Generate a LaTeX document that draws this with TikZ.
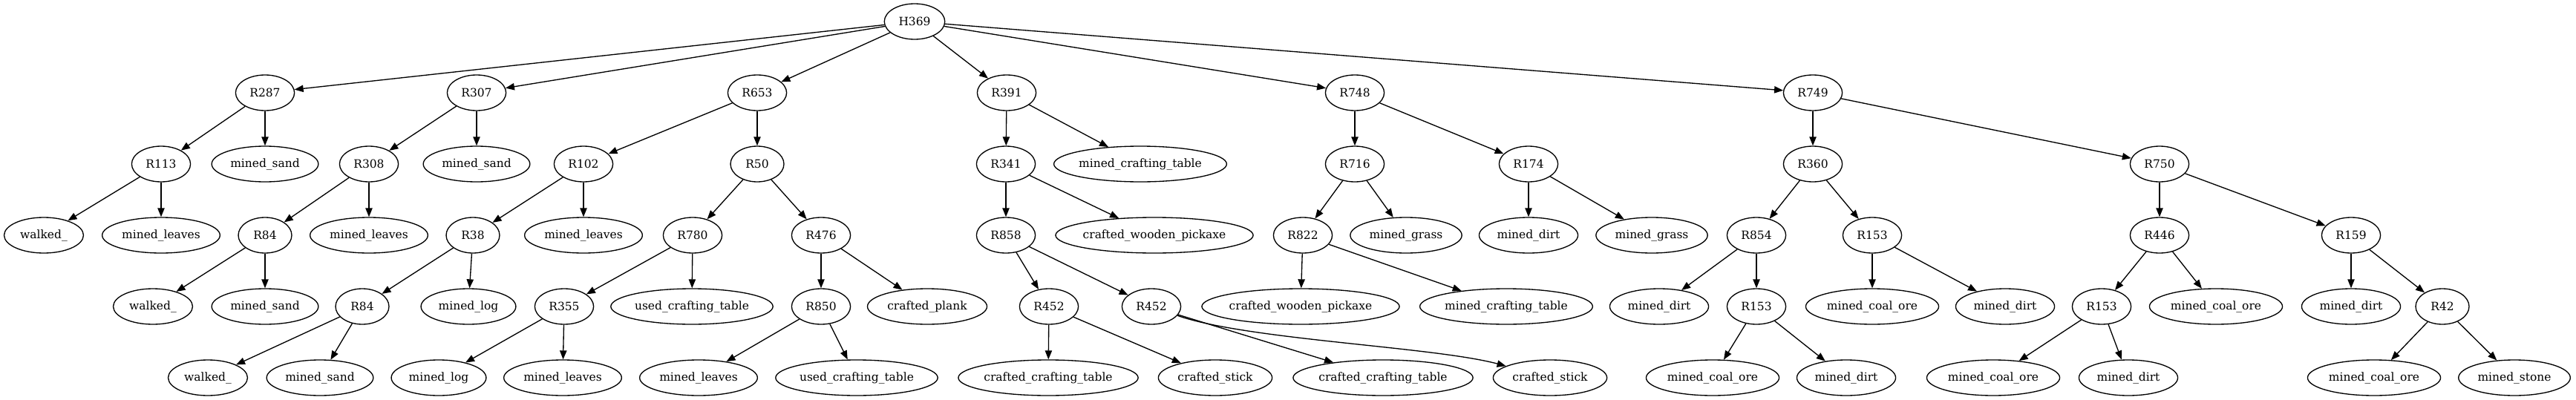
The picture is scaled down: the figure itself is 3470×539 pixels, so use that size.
\documentclass[tikz,border=0pt]{standalone}
\usepackage{fontspec}
\setmainfont{DejaVu Serif}
\usetikzlibrary{shapes.geometric,arrows.meta}

\begin{document}
\begin{tikzpicture}[x=0.75pt, y=-0.75pt, every node/.style={font=\fontsize{11.6}{14}\selectfont}]
    \tikzset{
        act/.style={draw, ellipse, line width=1pt, inner xsep=7.53pt, minimum width=54pt, minimum height=36pt},
        link/.style={line width=1pt, -{Triangle[length=9pt,width=7pt]}}
    }
    \useasboundingbox (0,0) rectangle (3470,539);

    % Ellipse width follows the label, with a floor for short names.
    \newcommand{\actnode}[4]{%
        \node[act] (#1) at (#2,#3) {\makebox[0.873\width]{#4}};
    }

    % Racine et premier niveau.
    \actnode{H369}{1232}{29}{H369}
    \actnode{R287}{357}{125}{R287}
    \actnode{R307}{642}{125}{R307}
    \actnode{R653}{1020}{125}{R653}
    \actnode{R391}{1356}{125}{R391}
    \actnode{R748}{1825}{125}{R748}
    \actnode{R749}{2442}{125}{R749}

    % Deuxieme niveau.
    \actnode{R113}{217}{221}{R113}
    \actnode{sandA}{357}{221}{mined\_sand}
    \actnode{R308}{497}{221}{R308}
    \actnode{sandB}{642}{221}{mined\_sand}
    \actnode{R102}{786}{221}{R102}
    \actnode{R50}{1020}{221}{R50}
    \actnode{R341}{1355}{221}{R341}
    \actnode{mctA}{1536}{221}{mined\_crafting\_table}
    \actnode{R716}{1825}{221}{R716}
    \actnode{R174}{2059}{221}{R174}
    \actnode{R360}{2442}{221}{R360}
    \actnode{R750}{2909}{221}{R750}

    % Troisieme niveau.
    \actnode{walkA}{59}{317}{walked\_}
    \actnode{leavesA}{217}{317}{mined\_leaves}
    \actnode{R84a}{357}{317}{R84}
    \actnode{leavesB}{497}{317}{mined\_leaves}
    \actnode{R38}{637}{317}{R38}
    \actnode{leavesC}{786}{317}{mined\_leaves}
    \actnode{R780}{933}{317}{R780}
    \actnode{R476}{1106}{317}{R476}
    \actnode{R858}{1355}{317}{R858}
    \actnode{cwpA}{1555}{317}{crafted\_wooden\_pickaxe}
    \actnode{R822}{1755}{317}{R822}
    \actnode{grassA}{1894}{317}{mined\_grass}
    \actnode{dirtA}{2059}{317}{mined\_dirt}
    \actnode{grassB}{2225}{317}{mined\_grass}
    \actnode{R854}{2366}{317}{R854}
    \actnode{R153a}{2522}{317}{R153}
    \actnode{R446}{2909}{317}{R446}
    \actnode{R159}{3167}{317}{R159}

    % Quatrieme niveau.
    \actnode{walkB}{206}{413}{walked\_}
    \actnode{sandC}{357}{413}{mined\_sand}
    \actnode{R84b}{488}{413}{R84}
    \actnode{logA}{631}{413}{mined\_log}
    \actnode{R355}{760}{413}{R355}
    \actnode{uctA}{932}{413}{used\_crafting\_table}
    \actnode{R850}{1106}{413}{R850}
    \actnode{plank}{1249}{413}{crafted\_plank}
    \actnode{R452a}{1413}{413}{R452}
    \actnode{R452b}{1551}{413}{R452}
    \actnode{cwpB}{1752}{413}{crafted\_wooden\_pickaxe}
    \actnode{mctB}{2029}{413}{mined\_crafting\_table}
    \actnode{dirtB}{2235}{413}{mined\_dirt}
    \actnode{R153b}{2366}{413}{R153}
    \actnode{coalA}{2522}{413}{mined\_coal\_ore}
    \actnode{dirtC}{2701}{413}{mined\_dirt}
    \actnode{R153c}{2831}{413}{R153}
    \actnode{coalB}{2985}{413}{mined\_coal\_ore}
    \actnode{dirtD}{3167}{413}{mined\_dirt}
    \actnode{R42}{3290}{413}{R42}

    % Feuilles du bas.
    \actnode{walkC}{280}{509}{walked\_}
    \actnode{sandD}{431}{509}{mined\_sand}
    \actnode{logB}{591}{509}{mined\_log}
    \actnode{leavesD}{758}{509}{mined\_leaves}
    \actnode{leavesE}{941}{509}{mined\_leaves}
    \actnode{uctB}{1154}{509}{used\_crafting\_table}
    \actnode{cctA}{1412}{509}{crafted\_crafting\_table}
    \actnode{stickA}{1637}{509}{crafted\_stick}
    \actnode{cctB}{1863}{509}{crafted\_crafting\_table}
    \actnode{stickB}{2088}{509}{crafted\_stick}
    \actnode{coalC}{2307}{509}{mined\_coal\_ore}
    \actnode{dirtE}{2487}{509}{mined\_dirt}
    \actnode{coalD}{2685}{509}{mined\_coal\_ore}
    \actnode{dirtF}{2867}{509}{mined\_dirt}
    \actnode{coalE}{3198}{509}{mined\_coal\_ore}
    \actnode{stone}{3387}{509}{mined\_stone}

    % Aretes.
    \draw[link] (H369) -- (R287);
    \draw[link] (H369) -- (R307);
    \draw[link] (H369) -- (R653);
    \draw[link] (H369) -- (R391);
    \draw[link] (H369) -- (R748);
    \draw[link] (H369) -- (R749);

    \draw[link] (R287) -- (R113);
    \draw[link] (R287) -- (sandA);
    \draw[link] (R113) -- (walkA);
    \draw[link] (R113) -- (leavesA);

    \draw[link] (R307) -- (R308);
    \draw[link] (R307) -- (sandB);
    \draw[link] (R308) -- (R84a);
    \draw[link] (R308) -- (leavesB);
    \draw[link] (R84a) -- (walkB);
    \draw[link] (R84a) -- (sandC);

    \draw[link] (R653) -- (R102);
    \draw[link] (R653) -- (R50);
    \draw[link] (R102) -- (R38);
    \draw[link] (R102) -- (leavesC);
    \draw[link] (R38) -- (R84b);
    \draw[link] (R38) -- (logA);
    \draw[link] (R84b) -- (walkC);
    \draw[link] (R84b) -- (sandD);
    \draw[link] (R50) -- (R780);
    \draw[link] (R50) -- (R476);
    \draw[link] (R780) -- (R355);
    \draw[link] (R780) -- (uctA);
    \draw[link] (R355) -- (logB);
    \draw[link] (R355) -- (leavesD);
    \draw[link] (R476) -- (R850);
    \draw[link] (R476) -- (plank);
    \draw[link] (R850) -- (leavesE);
    \draw[link] (R850) -- (uctB);

    \draw[link] (R391) -- (R341);
    \draw[link] (R391) -- (mctA);
    \draw[link] (R341) -- (R858);
    \draw[link] (R341) -- (cwpA);
    \draw[link] (R858) -- (R452a);
    \draw[link] (R858) -- (R452b);
    \draw[link] (R452a) -- (cctA);
    \draw[link] (R452a) -- (stickA);
    \draw[link] (R452b) -- (cctB);
    \draw[link] (R452b) .. controls (1680,458) and (1930,467) .. (stickB);

    \draw[link] (R748) -- (R716);
    \draw[link] (R748) -- (R174);
    \draw[link] (R716) -- (R822);
    \draw[link] (R716) -- (grassA);
    \draw[link] (R822) -- (cwpB);
    \draw[link] (R822) -- (mctB);
    \draw[link] (R174) -- (dirtA);
    \draw[link] (R174) -- (grassB);

    \draw[link] (R749) -- (R360);
    \draw[link] (R749) -- (R750);
    \draw[link] (R360) -- (R854);
    \draw[link] (R360) -- (R153a);
    \draw[link] (R854) -- (dirtB);
    \draw[link] (R854) -- (R153b);
    \draw[link] (R153b) -- (coalC);
    \draw[link] (R153b) -- (dirtE);
    \draw[link] (R153a) -- (coalA);
    \draw[link] (R153a) -- (dirtC);
    \draw[link] (R750) -- (R446);
    \draw[link] (R750) -- (R159);
    \draw[link] (R446) -- (R153c);
    \draw[link] (R446) -- (coalB);
    \draw[link] (R153c) -- (coalD);
    \draw[link] (R153c) -- (dirtF);
    \draw[link] (R159) -- (dirtD);
    \draw[link] (R159) -- (R42);
    \draw[link] (R42) -- (coalE);
    \draw[link] (R42) -- (stone);
\end{tikzpicture}
\end{document}
